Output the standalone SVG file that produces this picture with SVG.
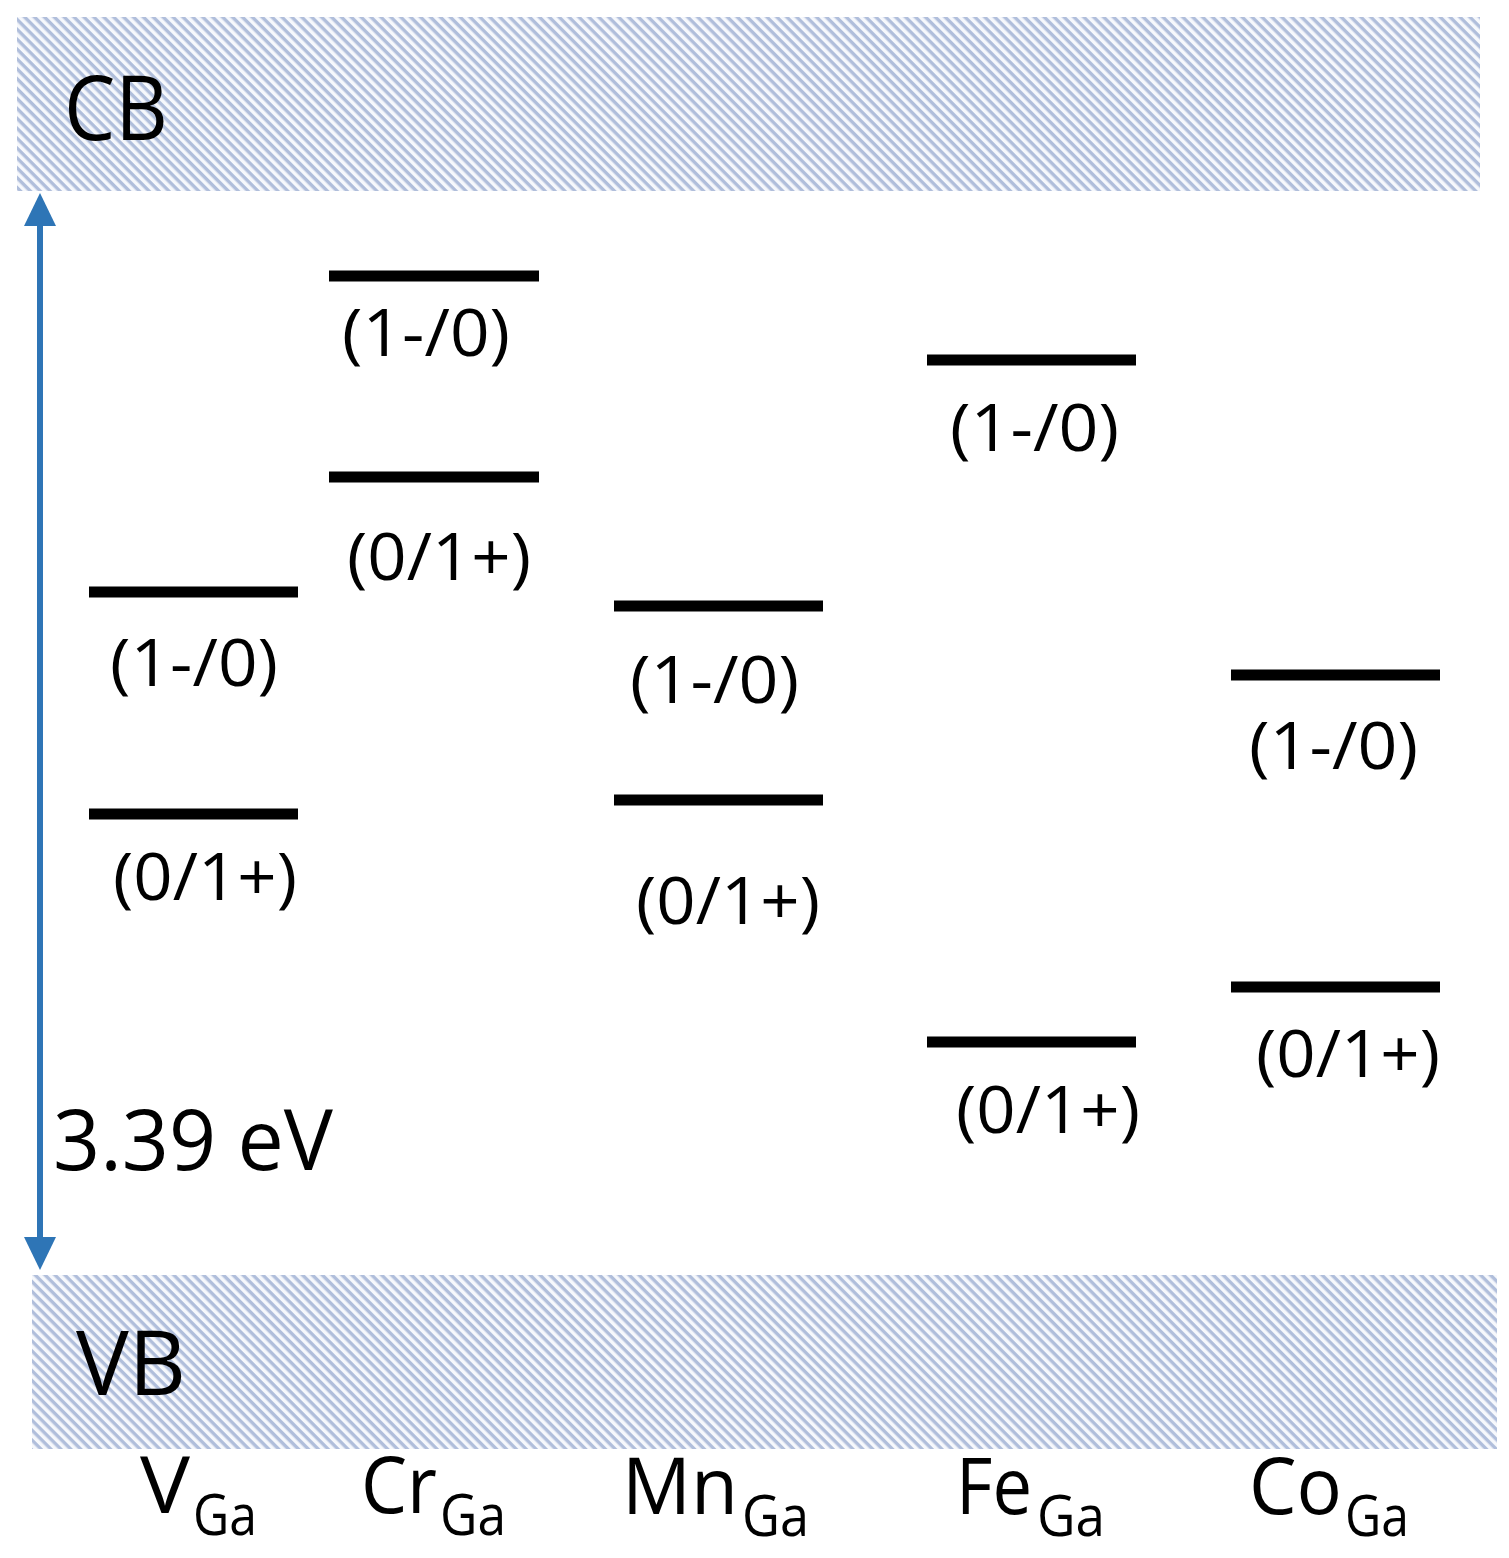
<svg xmlns="http://www.w3.org/2000/svg" width="1509" height="1558" viewBox="0 0 1509 1558">
<style>
text{font-family:"Open Sans","Liberation Sans",sans-serif;fill:#000}
.lvl{stroke:#000;stroke-width:11}
.lab{font-size:66px}
.main{font-size:78px}
.sub{font-size:56px}
.band{fill:url(#hatch)}
</style>
<defs>
<pattern id="hatch" patternUnits="userSpaceOnUse" width="7" height="7" patternTransform="rotate(45)">
<rect width="7" height="7" fill="#f6f8fc"/>
<rect width="7" height="3.4" fill="#b0bedb"/>
</pattern>
<marker id="ah" markerUnits="userSpaceOnUse" markerWidth="34" markerHeight="32" refX="5" refY="16" orient="auto-start-reverse">
<path d="M0,0 L33,16 L0,32 z" fill="#2e75b6"/>
</marker>
</defs>
<rect width="1509" height="1558" fill="#fff"/>
<g id="cb">
<rect class="band" x="17" y="17" width="1463" height="174"/>
<text x="64" y="140" font-size="90" textLength="104" lengthAdjust="spacingAndGlyphs">CB</text>
</g>
<g id="vb">
<rect class="band" x="32" y="1275" width="1465" height="174"/>
<text x="76" y="1395" font-size="90" textLength="110" lengthAdjust="spacingAndGlyphs">VB</text>
</g>
<g id="connectors">
<line x1="40" y1="221" x2="40" y2="1242" stroke="#2e75b6" stroke-width="6" marker-start="url(#ah)" marker-end="url(#ah)"/>
</g>
<g id="gap-label">
<text x="53" y="1170" font-size="84" textLength="280" lengthAdjust="spacingAndGlyphs">3.39 eV</text>
</g>
<g id="V_Ga">
<line class="lvl" x1="89" y1="592" x2="298" y2="592"/>
<text class="lab" x="110" y="686" textLength="168" lengthAdjust="spacingAndGlyphs">(1-/0)</text>
<line class="lvl" x1="89" y1="814" x2="298" y2="814"/>
<text class="lab" x="113" y="900" textLength="184" lengthAdjust="spacingAndGlyphs">(0/1+)</text>
<text class="main" x="140" y="1513" textLength="50" lengthAdjust="spacingAndGlyphs">V</text>
<text class="sub" x="193" y="1535" textLength="64" lengthAdjust="spacingAndGlyphs">Ga</text>
</g>
<g id="Cr_Ga">
<line class="lvl" x1="329" y1="276" x2="539" y2="276"/>
<text class="lab" x="342" y="356" textLength="168" lengthAdjust="spacingAndGlyphs">(1-/0)</text>
<line class="lvl" x1="329" y1="477" x2="539" y2="477"/>
<text class="lab" x="347" y="580" textLength="184" lengthAdjust="spacingAndGlyphs">(0/1+)</text>
<text class="main" x="361" y="1513" textLength="76" lengthAdjust="spacingAndGlyphs">Cr</text>
<text class="sub" x="440" y="1535" textLength="66" lengthAdjust="spacingAndGlyphs">Ga</text>
</g>
<g id="Mn_Ga">
<line class="lvl" x1="614" y1="606" x2="823" y2="606"/>
<text class="lab" x="630" y="703" textLength="169" lengthAdjust="spacingAndGlyphs">(1-/0)</text>
<line class="lvl" x1="614" y1="800" x2="823" y2="800"/>
<text class="lab" x="636" y="924" textLength="184" lengthAdjust="spacingAndGlyphs">(0/1+)</text>
<text class="main" x="622" y="1514" textLength="116" lengthAdjust="spacingAndGlyphs">Mn</text>
<text class="sub" x="742" y="1536" textLength="67" lengthAdjust="spacingAndGlyphs">Ga</text>
</g>
<g id="Fe_Ga">
<line class="lvl" x1="927" y1="360" x2="1136" y2="360"/>
<text class="lab" x="950" y="451" textLength="169" lengthAdjust="spacingAndGlyphs">(1-/0)</text>
<line class="lvl" x1="927" y1="1042" x2="1136" y2="1042"/>
<text class="lab" x="956" y="1133" textLength="184" lengthAdjust="spacingAndGlyphs">(0/1+)</text>
<text class="main" x="956" y="1514" textLength="76" lengthAdjust="spacingAndGlyphs">Fe</text>
<text class="sub" x="1037" y="1536" textLength="68" lengthAdjust="spacingAndGlyphs">Ga</text>
</g>
<g id="Co_Ga">
<line class="lvl" x1="1231" y1="675" x2="1440" y2="675"/>
<text class="lab" x="1249" y="769" textLength="169" lengthAdjust="spacingAndGlyphs">(1-/0)</text>
<line class="lvl" x1="1231" y1="987" x2="1440" y2="987"/>
<text class="lab" x="1256" y="1077" textLength="184" lengthAdjust="spacingAndGlyphs">(0/1+)</text>
<text class="main" x="1249" y="1514" textLength="93" lengthAdjust="spacingAndGlyphs">Co</text>
<text class="sub" x="1345" y="1536" textLength="64" lengthAdjust="spacingAndGlyphs">Ga</text>
</g>
</svg>
